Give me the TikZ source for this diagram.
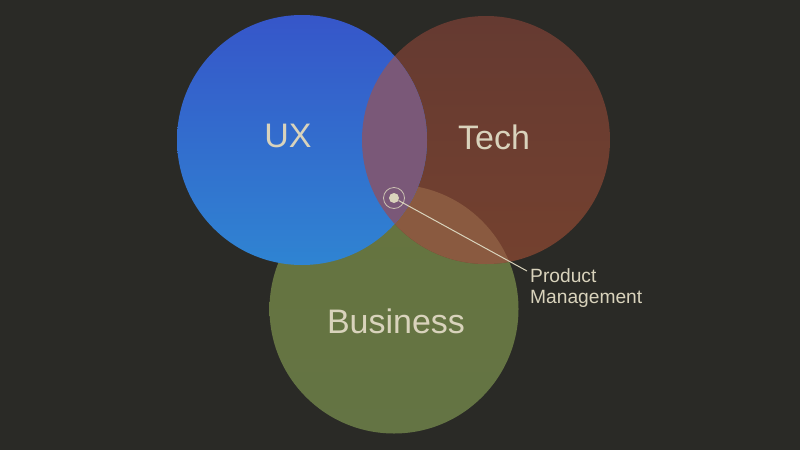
\documentclass[tikz,border=0pt]{standalone}
\usepackage{fontspec}
\setmainfont{Liberation Sans}
\definecolor{bg}{HTML}{2A2A26}
\definecolor{cream}{HTML}{D9D3BC}
\definecolor{uxtop}{HTML}{3656C9}
\definecolor{uxbot}{HTML}{2F84D2}
\definecolor{techtop}{HTML}{653A31}
\definecolor{techbot}{HTML}{74412F}
\definecolor{bustop}{HTML}{66743F}
\definecolor{busbot}{HTML}{647444}
\definecolor{tb}{HTML}{8A5A40}
\definecolor{ut}{HTML}{7A5878}
\begin{document}
\begin{tikzpicture}[x=1pt,y=-1pt,
  biglabel/.style={text=cream,font=\fontsize{34}{37}\selectfont,inner sep=0},
  smalllabel/.style={text=cream,font=\fontsize{19.2}{21}\selectfont,align=left,inner sep=0},
  pmdot/.style={circle,fill=cream,minimum size=10pt,inner sep=0},
  connector/.style={draw=cream,line width=1pt}]
\useasboundingbox (0,0) rectangle (800,450);
\fill[bg] (0,0) rectangle (800,450);
% Business
\begin{scope}
  \clip (394,309) circle (124.5);
  \shade[top color=bustop,bottom color=busbot] (269,184) rectangle (519,434);
\end{scope}
% Tech
\begin{scope}
  \clip (486,140) circle (124);
  \shade[top color=techtop,bottom color=techbot] (362,16) rectangle (610,264);
\end{scope}
% Tech and Business
\begin{scope}
  \clip (486,140) circle (124);
  \fill[tb] (394,309) circle (124.5);
\end{scope}
% UX
\begin{scope}
  \clip (302,140) circle (125);
  \shade[top color=uxtop,bottom color=uxbot] (177,15) rectangle (427,265);
\end{scope}
% UX and Tech
\begin{scope}
  \clip (302,140) circle (125);
  \fill[ut] (486,140) circle (124);
\end{scope}
\node[biglabel] (ux) at (288,136) {UX};
\node[biglabel] (tech) at (494,137) {Tech};
\node[biglabel] (business) at (396,321) {Business};
\node[pmdot] (pm) at (394,198) {};
\draw[cream,line width=0.8pt,opacity=0.85] (pm.center) circle (10.5);
\coordinate (pmend) at (527,271);
\node[smalllabel,anchor=north west] (pmlabel) at (530,268) {Product\\Management};
\draw[connector] (pm) -- (pmend);
\end{tikzpicture}
\end{document}
